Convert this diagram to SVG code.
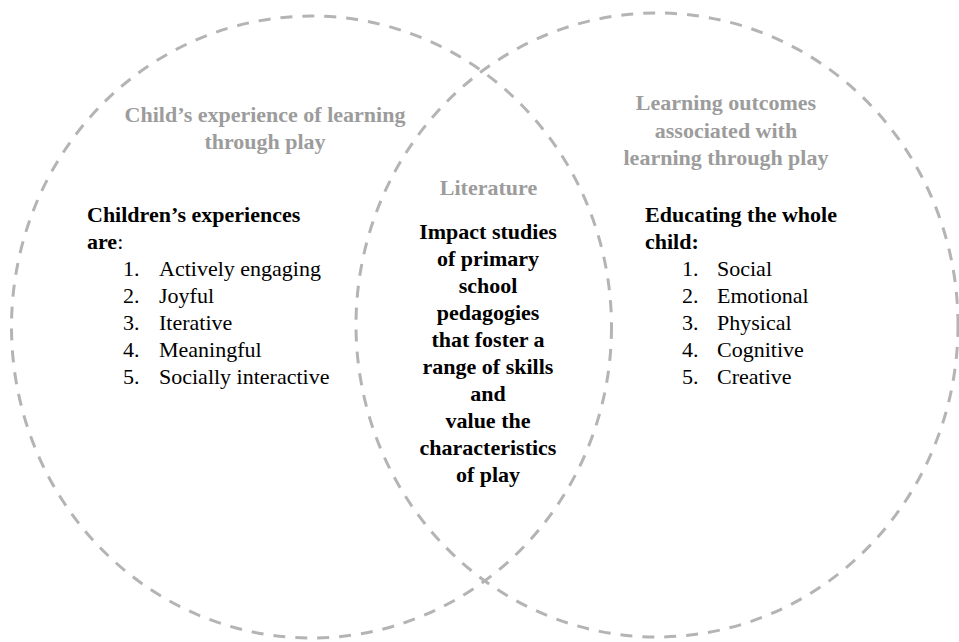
<svg xmlns="http://www.w3.org/2000/svg" width="959" height="642" viewBox="0 0 959 642">
  <style>
    .ring { fill: none; stroke: #b4b4b4; stroke-width: 3; stroke-dasharray: 12 10; }
    text { font-family: "Liberation Serif", "Times New Roman", serif; font-size: 22px; }
    .title { fill: #9c9c9c; font-weight: bold; text-anchor: middle; }
    .head { fill: #000; font-weight: bold; }
    .mid { fill: #000; font-weight: bold; text-anchor: middle; }
    .item { fill: #000; }
  </style>
  <rect width="959" height="642" fill="#ffffff"/>
  <g id="left-circle">
    <ellipse class="ring" cx="311.5" cy="327" rx="300" ry="311"/>
    <text class="title" x="265" y="122">Child’s experience of learning</text>
    <text class="title" x="265" y="149">through play</text>
    <text class="head" x="87" y="222">Children’s experiences</text>
    <text class="head" x="87" y="249">are<tspan font-weight="normal">:</tspan></text>
    <text class="item" x="123" y="276">1.</text><text class="item" x="159" y="276">Actively engaging</text>
    <text class="item" x="123" y="303">2.</text><text class="item" x="159" y="303">Joyful</text>
    <text class="item" x="123" y="330">3.</text><text class="item" x="159" y="330">Iterative</text>
    <text class="item" x="123" y="357">4.</text><text class="item" x="159" y="357">Meaningful</text>
    <text class="item" x="123" y="384">5.</text><text class="item" x="159" y="384">Socially interactive</text>
  </g>
  <g id="right-circle">
    <ellipse class="ring" cx="657" cy="325" rx="301" ry="312"/>
    <text class="title" x="726" y="110">Learning outcomes</text>
    <text class="title" x="726" y="137.5">associated with</text>
    <text class="title" x="726" y="165">learning through play</text>
    <text class="head" x="645" y="222">Educating the whole</text>
    <text class="head" x="645" y="249">child:</text>
    <text class="item" x="682" y="276">1.</text><text class="item" x="717" y="276">Social</text>
    <text class="item" x="682" y="303">2.</text><text class="item" x="717" y="303">Emotional</text>
    <text class="item" x="682" y="330">3.</text><text class="item" x="717" y="330">Physical</text>
    <text class="item" x="682" y="357">4.</text><text class="item" x="717" y="357">Cognitive</text>
    <text class="item" x="682" y="384">5.</text><text class="item" x="717" y="384">Creative</text>
  </g>
  <g id="overlap">
    <text class="title" x="488.5" y="195">Literature</text>
    <text class="mid" x="488" y="239">Impact studies</text>
    <text class="mid" x="488" y="266">of primary</text>
    <text class="mid" x="488" y="293">school</text>
    <text class="mid" x="488" y="320">pedagogies</text>
    <text class="mid" x="488" y="347">that foster a</text>
    <text class="mid" x="488" y="374">range of skills</text>
    <text class="mid" x="488" y="401">and</text>
    <text class="mid" x="488" y="428">value the</text>
    <text class="mid" x="488" y="455">characteristics</text>
    <text class="mid" x="488" y="482">of play</text>
  </g>
</svg>
